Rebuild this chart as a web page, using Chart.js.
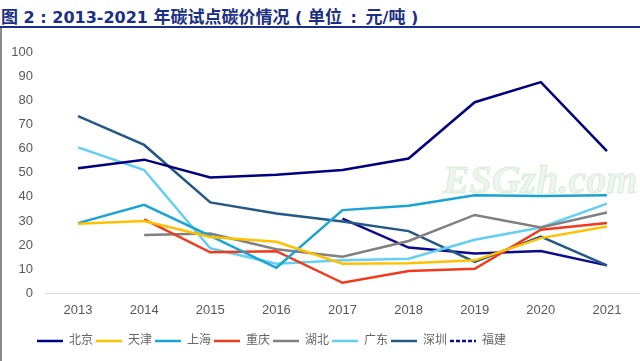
<!DOCTYPE html>
<html>
<head>
<meta charset="utf-8">
<script src="https://cdn.jsdelivr.net/npm/chart.js@4"></script>
<style>
  body { margin: 0; width: 640px; height: 361px; overflow: hidden; background: #fff; position: relative; }
  #title {
    position: absolute; left: 0; top: 0; width: 640px; height: 28px;
    border-bottom: 2px solid #1b2f86;
    font: bold 16px "DejaVu Sans", "Noto Sans CJK SC", sans-serif; color: #1b2f86;
    line-height: 32px; padding-left: 1px; box-sizing: border-box; white-space: pre; overflow: hidden;
  }
  #title .c { font-family: "Noto Sans CJK SC", sans-serif; font-size: 17px; }
  #title .p { padding: 0 3px; }
  #edge { position: absolute; left: 0; top: 28px; width: 2px; height: 333px; background: #8a8a8a; }
  #box { position: absolute; left: 3px; top: 30px; width: 637px; height: 331px; }
</style>
</head>
<body>
<div id="title"><span class="c">图</span> 2 : 2013-2021 <span class="c">年碳试点碳价情况</span> ( <span class="c">单位</span> <span class="p">:</span> <span class="c">元</span>/<span class="c">吨</span> )</div>
<div id="edge"></div>
<div id="box"><canvas id="myChart"></canvas></div>
<script>
let years = ["2013", "2014", "2015", "2016", "2017", "2018", "2019", "2020", "2021"];
let yTicks = [0, 10, 20, 30, 40, 50, 60, 70, 80, 90, 100];

let beijing   = [51.8, 55.4, 48.0, 49.2, 51.1, 55.9, 79.2, 87.5, 58.9];
let tianjin   = [28.9, 30.0, 23.4, 21.4, 12.3, 12.5, 13.7, 22.9, 27.7];
let shanghai  = [29.1, 36.7, 23.8, 10.6, 34.5, 36.3, 40.7, 40.3, 40.7];
let chongqing = [null, 30.7, 17.0, 17.5, 4.4, 9.3, 10.2, 26.4, 29.2];
let hubei     = [null, 24.2, 24.8, 18.3, 15.2, 21.7, 32.5, 27.3, 33.5];
let guangdong = [60.5, 51.1, 18.7, 12.3, 13.7, 14.4, 22.2, 27.3, 37.2];
let shenzhen  = [73.4, 61.5, 37.7, 33.1, 29.8, 25.8, 13.1, 23.5, 11.6];
let fujian    = [null, null, null, null, 31.0, 19.0, 16.5, 17.6, 11.6];

let font = "'Liberation Sans', 'Noto Sans CJK SC', sans-serif";

function series(label, data, color) {
  return {
    label: label, data: data, borderColor: color, backgroundColor: color,
    borderWidth: 2.5, pointRadius: 0, tension: 0, spanGaps: false
  };
}

// move legend a bit to the left like the original
let legendShift = {
  id: "legendShift",
  afterLayout(chart) {
    chart.legend.left = 31;
  }
};

// faint watermark
let watermark = {
  id: "watermark",
  afterDatasetsDraw(chart) {
    let ctx = chart.ctx;
    ctx.save();
    ctx.font = "italic bold 40px 'Liberation Serif', serif";
    ctx.fillStyle = "rgba(200, 228, 200, 0.35)";
    ctx.strokeStyle = "rgba(170, 210, 170, 0.35)";
    ctx.lineWidth = 1;
    ctx.textAlign = "center";
    ctx.textBaseline = "middle";
    ctx.fillText("ESGzh.com", 537, 153);
    ctx.strokeText("ESGzh.com", 537, 153);
    ctx.restore();
  }
};

let ctx = document.getElementById("myChart").getContext("2d");
let chart = new Chart(ctx, {
  type: "line",
  data: {
    labels: years,
    datasets: [
      series("北京", beijing, "#00007f"),
      series("天津", tianjin, "#ffc000"),
      series("上海", shanghai, "#17a3d6"),
      series("重庆", chongqing, "#ef3b1c"),
      series("湖北", hubei, "#808080"),
      series("广东", guangdong, "#63cff2"),
      series("深圳", shenzhen, "#235887"),
      series("福建", fujian, "#0b0b8f")
    ]
  },
  options: {
    responsive: true,
    maintainAspectRatio: false,
    animation: false,
    layout: { padding: { top: 22, right: 0, bottom: 4, left: 0 } },
    plugins: {
      title: { display: false },
      tooltip: { enabled: false },
      legend: {
        position: "bottom",
        align: "start",
        labels: {
          font: { family: font, size: 12 },
          color: "#666666",
          usePointStyle: true,
          pointStyle: "line",
          pointStyleWidth: 26,
          padding: 3,
          generateLabels(chart) {
            let items = Chart.defaults.plugins.legend.labels.generateLabels(chart);
            items.forEach(it => {
              it.pointStyle = "line";
              if (it.text === "福建") it.lineDash = [4, 2];
            });
            return items;
          }
        }
      }
    },
    scales: {
      x: {
        offset: true,
        afterFit(axis) { axis.height += 5; },
        grid: { display: false, drawTicks: false },
        border: { display: true, color: "#d9d9d9", width: 1 },
        ticks: { font: { family: font, size: 13 }, color: "#595959", padding: 9 }
      },
      y: {
        min: 0,
        max: 100,
        afterFit(axis) { axis.width = 42; },
        afterBuildTicks(axis) { axis.ticks = yTicks.map(v => ({ value: v })); },
        grid: { display: false, drawTicks: false },
        border: { display: false },
        ticks: { font: { family: font, size: 13 }, color: "#595959", padding: 12 }
      }
    }
  },
  plugins: [legendShift, watermark]
});
</script>
</body>
</html>
